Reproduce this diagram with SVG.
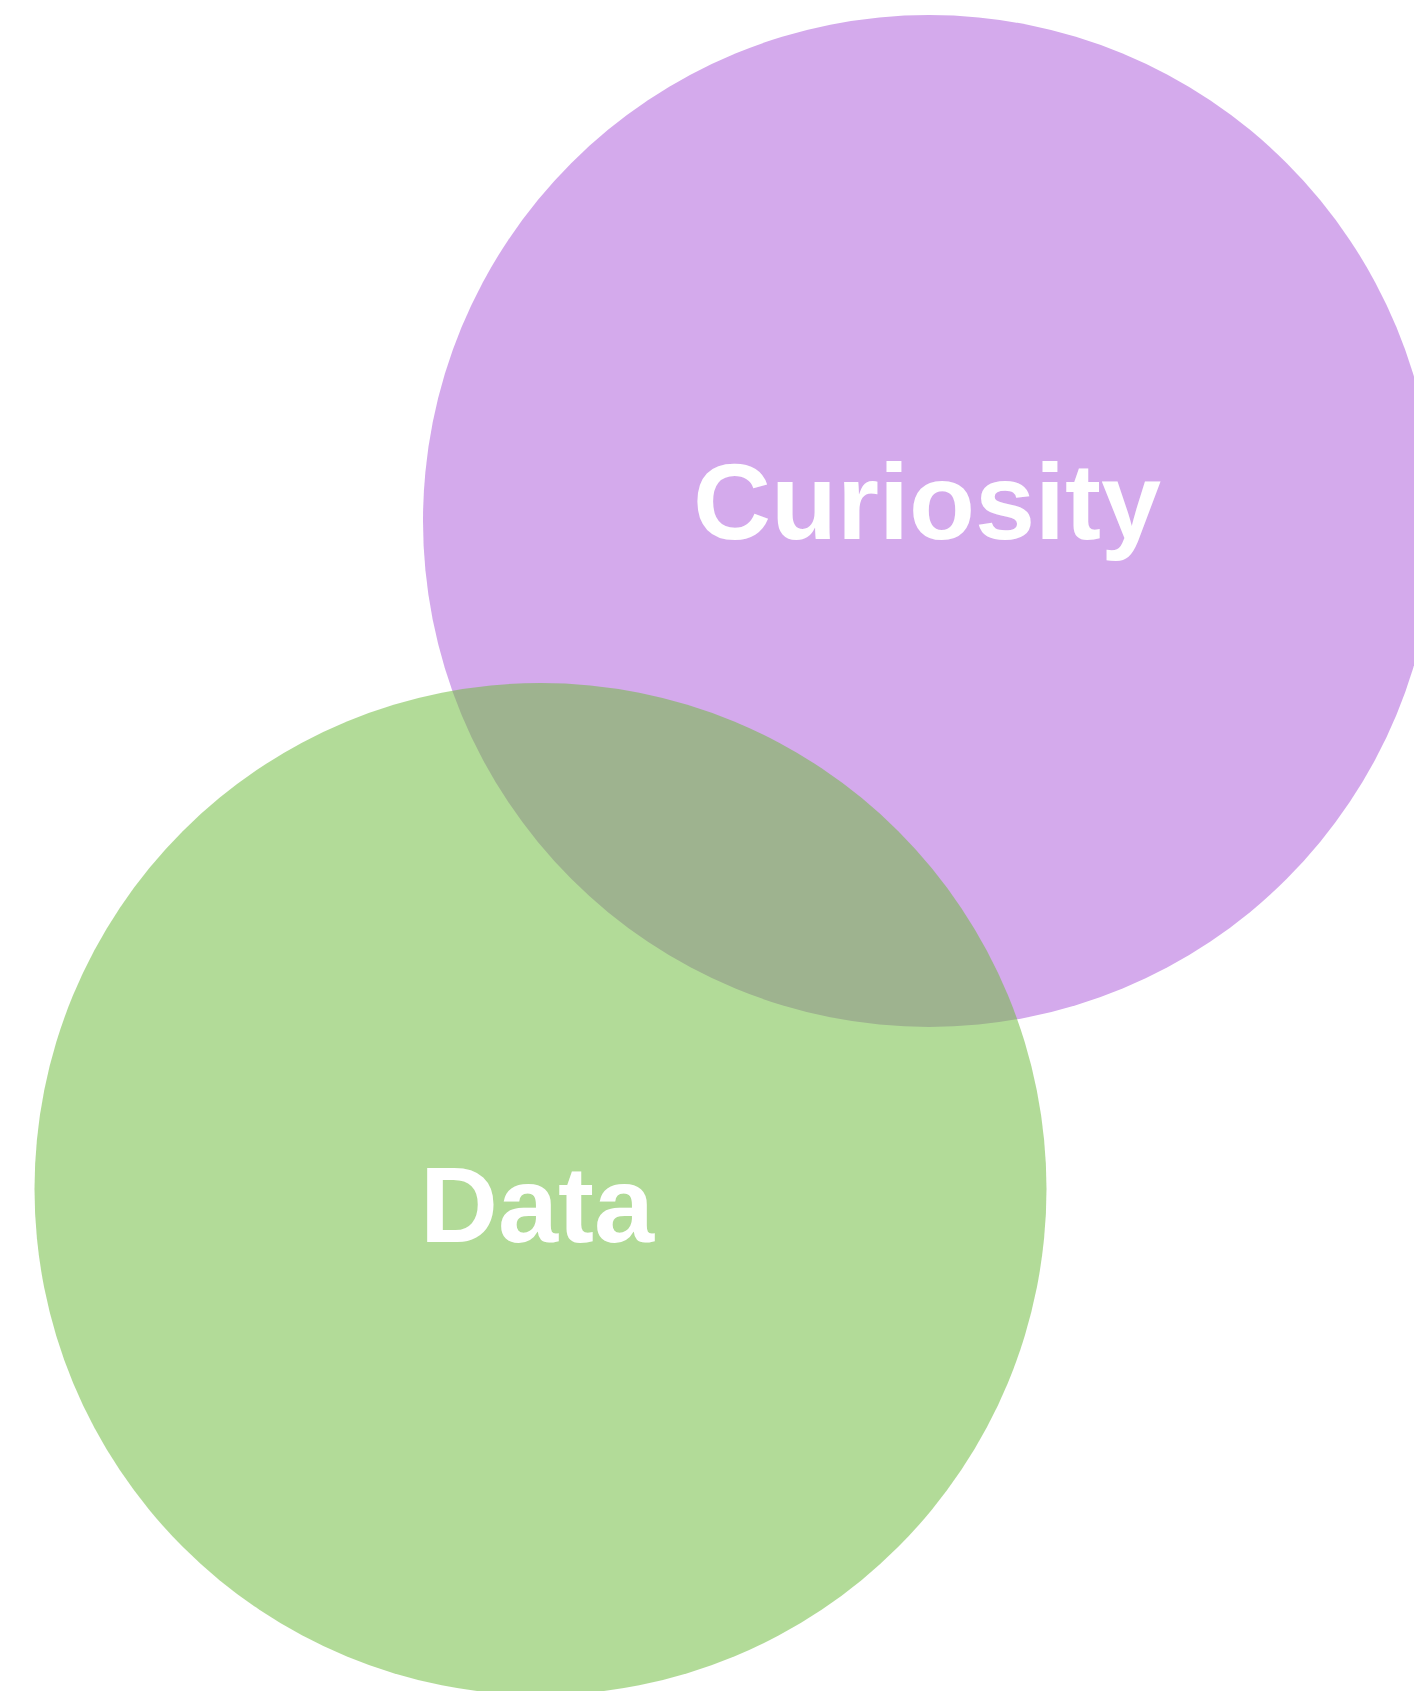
<svg xmlns="http://www.w3.org/2000/svg" width="1414" height="1691" viewBox="0 0 1414 1691">
  <style>
    .label { font-family: "Liberation Sans", Arial, Helvetica, sans-serif; font-weight: bold; font-size: 108px; fill: #FFFFFF; text-anchor: middle; }
  </style>
  <rect width="1414" height="1691" fill="#FFFFFF"/>
  <g id="curiosity">
    <circle cx="929" cy="521" r="506" fill="#D4AAEC"/>
  </g>
  <g id="data">
    <circle cx="540.5" cy="1189" r="506" fill="#6EBB3D" fill-opacity="0.53"/>
  </g>
  <g id="labels">
    <text class="label" x="927" y="539">Curiosity</text>
    <text class="label" x="537" y="1242">Data</text>
  </g>
  <g id="connectors"/>
</svg>
